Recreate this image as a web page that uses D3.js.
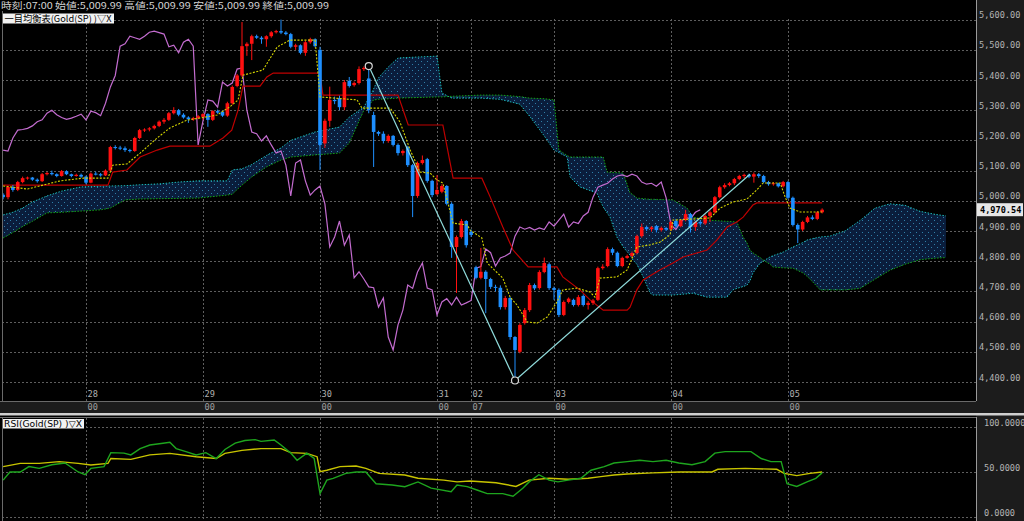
<!DOCTYPE html>
<html><head><meta charset="utf-8">
<script src="https://cdn.jsdelivr.net/npm/d3@7"></script>
<style>html,body{margin:0;padding:0;background:#000;overflow:hidden}svg{display:block}</style>
</head><body><svg id="c" width="1024" height="521"></svg>
<script>
// ---------- DATA ----------
const firstIndex = -17; // index of first candle (28 00:00 = 0)
const candles = [
[5020,5025,5005,5012],[5012,5050,5005,5046],[5046,5052,5030,5036],[5036,5066,5032,5062],[5062,5080,5058,5075],
[5075,5080,5070,5077],[5077,5079,5066,5070],[5070,5074,5060,5065],[5065,5092,5062,5088],[5088,5096,5084,5092],
[5092,5100,5084,5088],[5088,5091,5078,5082],[5082,5102,5080,5098],[5098,5101,5085,5088],[5088,5090,5078,5082],
[5082,5090,5080,5086],[5086,5090,5076,5080],
[5080,5083,5055,5060],[5060,5094,5058,5090],[5090,5096,5084,5088],[5088,5092,5080,5084],[5084,5104,5082,5100],
[5100,5182,5098,5178],[5178,5184,5170,5176],[5176,5182,5168,5174],[5174,5180,5162,5168],[5168,5172,5160,5165],
[5165,5212,5162,5208],[5208,5238,5204,5234],[5234,5240,5228,5236],[5236,5244,5230,5240],[5240,5252,5236,5248],
[5248,5266,5244,5262],[5262,5274,5255,5268],[5268,5294,5264,5290],[5290,5310,5286,5300],[5300,5304,5280,5285],
[5285,5290,5272,5276],[5276,5280,5258,5270],[5270,5278,5265,5274],[5274,5284,5270,5280],[5278,5290,5268,5287],
[5287,5290,5245,5268],[5268,5300,5264,5297],[5297,5302,5288,5292],[5295,5298,5278,5282],[5282,5328,5278,5323],
[5323,5382,5318,5377],[5380,5420,5376,5415],[5415,5592,5410,5512],[5512,5525,5480,5520],[5520,5550,5466,5545],
[5545,5550,5536,5540],[5540,5545,5520,5535],[5535,5548,5510,5545],[5545,5562,5540,5558],[5558,5566,5554,5562],
[5562,5600,5552,5557],[5557,5562,5548,5552],[5552,5556,5505,5510],[5510,5520,5500,5515],[5515,5518,5485,5490],
[5490,5530,5480,5525],[5525,5540,5520,5535],[5535,5538,5508,5512],
[5500,5510,5102,5185],[5190,5272,5175,5265],[5265,5378,5245,5334],[5334,5345,5320,5330],[5340,5348,5300,5310],
[5310,5400,5300,5393],[5397,5410,5375,5380],[5383,5395,5378,5390],[5390,5445,5385,5436],[5436,5445,5430,5440],
[5405,5446,5290,5300],[5284,5295,5112,5228],[5228,5232,5215,5222],[5222,5230,5190,5198],[5198,5220,5192,5215],
[5215,5218,5180,5185],[5185,5190,5150,5158],[5158,5170,5150,5165],[5178,5182,5112,5118],[5118,5122,4946,5016],
[5016,5130,5010,5125],[5125,5150,5120,5135],[5138,5142,5060,5066],[5066,5070,5012,5019],
[5022,5085,5018,5036],[5030,5055,5025,5049],[5049,5052,4985,4990],[4990,4995,4811,4847],[4847,4885,4695,4880],
[4880,4940,4875,4933],[4933,4936,4845,4853],
[4897,4905,4880,4887],[4780,4785,4740,4745],[4745,4844,4740,4765],[4765,4770,4628,4741],[4741,4745,4708,4715],
[4715,4722,4700,4712],[4712,4720,4640,4648],[4648,4685,4640,4678],[4678,4682,4540,4549],[4549,4552,4405,4506],
[4500,4595,4495,4589],[4595,4645,4590,4638],[4638,4728,4632,4721],[4721,4726,4704,4710],[4711,4770,4706,4764],
[4764,4812,4760,4794],[4790,4796,4705,4711],
[4711,4716,4672,4705],[4705,4710,4615,4622],[4622,4670,4618,4665],[4665,4680,4660,4676],[4672,4676,4650,4655],
[4655,4688,4650,4681],[4685,4690,4650,4655],[4655,4668,4640,4662],[4662,4675,4655,4670],[4672,4782,4668,4777],
[4777,4790,4772,4782],[4784,4846,4780,4840],[4840,4845,4820,4828],[4828,4832,4780,4784],[4784,4815,4780,4811],
[4811,4822,4808,4817],[4817,4832,4812,4827],[4827,4888,4822,4883],[4883,4925,4878,4913],[4913,4918,4900,4906],
[4906,4916,4898,4912],[4916,4920,4895,4903],[4903,4915,4898,4910],[4910,4914,4900,4905],
[4905,4935,4900,4930],[4933,4940,4910,4916],[4916,4940,4912,4936],[4936,4970,4932,4956],[4956,4960,4895,4913],
[4913,4934,4900,4930],[4930,4935,4918,4925],[4925,4955,4920,4950],[4950,4968,4930,4962],[4962,5016,4958,5012],
[5012,5050,5008,5045],[5045,5058,5040,5052],[5052,5062,5048,5058],[5058,5076,5052,5072],[5072,5086,5068,5082],
[5082,5090,5075,5086],[5086,5090,5075,5080],[5080,5094,5060,5088],[5088,5092,5076,5082],[5082,5086,5058,5062],
[5062,5066,5050,5055],[5055,5062,5050,5058],[5058,5060,5044,5048],[5048,5066,5044,5062],
[5062,5066,5005,5010],[5010,5014,4915,4920],[4920,4925,4860,4905],[4905,4934,4900,4930],[4930,4950,4926,4945],
[4945,4952,4936,4940],[4940,4966,4936,4962],[4962,4975,4958,4970.54]
];
const chikouShift = 25;

const tenkanIdx = [-17,-12,-8.8,-5.3,-0.6,4.5,5.5,8.4,11.1,12.5,14.6,17.2,20.7,23.4,26.9,29.5,31.2,32.2,36.3,39.2,41.8,47,48,55.6,56.6,62.4,64.4,66.5,67.9,68.5,70.6,72,73.2,75.3,78.2,78.8,81.2,82.3,85.5,87,88.4,90.5,92.5,94.6,96.6,97.8,100.7,103.4,104.4,105.4,108.9,111,113,115.7,117.7,119.8,120.4,128,130.1,132.7,135.6,137.6,138.9,142.4,143.4,144.4,146.5,151];
const tenkanVal = [5049,5039,5052,5066,5075,5075,5118,5122,5158,5178,5208,5241,5267,5274,5284,5311,5334,5416,5433,5509,5532,5532,5344,5334,5307,5307,5261,5168,5118,5095,5092,5069,5059,4926,4920,4903,4877,4794,4744,4681,4655,4599,4595,4615,4665,4705,4711,4698,4681,4744,4748,4771,4847,4854,4863,4887,4936,4943,4976,4996,5006,5036,5059,5059,5013,4976,4963,4963];

const kijunIdx = [-17,4.5,5.5,8.4,11.1,14.6,17.2,25.4,28.1,29.9,31.2,32.2,35.7,37.1,38.4,47.4,48,48.6,64,66.1,73.2,75.3,81.2,82.9,85.5,87.6,90.7,96.6,97.8,101.3,103.4,106.1,111,111.6,113,114.3,117.7,120.4,122.5,127.4,129.4,131.5,133.5,134.8,136.8,137.6,151];
const kijunVal = [5052,5052,5095,5102,5145,5168,5181,5181,5208,5234,5301,5380,5380,5410,5423,5423,5420,5350,5350,5251,5251,5075,5075,5013,4913,4837,4781,4781,4748,4705,4672,4638,4638,4648,4705,4738,4771,4794,4814,4837,4870,4913,4930,4946,4986,4993,4993];

const cloudIdx = [-17,-15,-13,-11,-8,-5,-1,3,5,8,11,15,19,23,29,30,32,34,37,40,42,47,52,54,57,59,60,62,64,72,73,75,81,85,89,91,94,96,97,98.7,99.3,101.3,104.8,106.1,106.9,107.5,108.9,110.2,111.6,112.2,113,114.3,115.7,116.3,120.4,123.3,124.5,127.4,131.5,132.7,133.5,134.8,135.6,136.2,136.8,138.3,138.9,140.3,140.9,143,145,147.1,147.9,149.1,150.6,152.6,155.7,158.8,161.8,164.9,168,171.1,174.2,176.4];
const spanA = [4953,4962,4976,4996,5016,5032,5046,5048,5049,5050,5053,5056,5062,5066,5066,5102,5106,5120,5150,5175,5200,5228,5244,5277,5310,5370,5407,5443,5473,5479,5357,5340,5340,5336,5320,5280,5215,5168,5160,5145,5079,5046,5026,4979,4960,4946,4880,4847,4820,4804,4790,4748,4695,4688,4688,4692,4694,4681,4681,4705,4710,4716,4721,4735,4761,4794,4800,4814,4818,4830,4847,4862,4870,4875,4880,4883,4900,4935,4975,4990,4985,4965,4955,4950];
const spanB = [4877,4895,4915,4932,4960,4962,4966,4970,4976,5003,5006,5007,5008,5009,5019,5022,5052,5079,5112,5135,5145,5152,5158,5191,5300,5334,5336,5338,5340,5344,5344,5346,5350,5350,5345,5340,5338,5334,5168,5150,5145,5145,5145,5145,5095,5094,5093,5092,5026,5020,5009,5007,5005,5005,5003,4976,4946,4936,4932,4931,4930,4880,4860,4837,4828,4812,4804,4790,4781,4778,4777,4761,4750,4731,4705,4705,4705,4710,4740,4770,4790,4805,4810,4812];

const trendIdx = [58, 88, 136.2];
const trendVal = [5446, 4405, 5088];
const pivotIdx = [58, 88];
const pivotVal = [5446, 4405];

const rsiIdx = [-17,-15.6,-13.5,-11.7,-9.6,-7,-4.3,-1.6,-0.2,1,3.7,5.1,7.8,9.2,11.1,13.1,15.8,17.2,18.5,20.5,22.6,24.6,26.7,28.5,30.6,32.6,34.7,35.9,38.6,40,42,43.3,45.3,46.8,48,49.4,50.7,53.3,55.4,57.4,59.5,62.8,65.4,68.1,70.8,74.9,76.1,78.2,80.2,82.3,85.5,87.6,89.6,90.9,92.9,95,96.8,98.9,101.5,103.6,106.3,108.3,111,113.6,116.3,119,121.6,124.3,127,129,131.1,133.7,136.4,138.5,140.5,142.6,143.8,145.8,147.9,149.7,151];
const rsiVal = [41,50,50,56,54,58,60,50,47,54,56,71.5,71,69,76,80,82,83,76,72.6,69,71.5,65,75,82,85,86,84,85.6,80,71,63,71,65,26,41,43,48.5,50,50,37,35.6,33.7,39,32,28,35.6,33.7,30,26,26,23,32,39,47,41,39,41,43,52,56,60,61.5,63,61.5,63,60,58,61.5,71,72.6,72.6,72.6,65,61.5,61.5,37,34,39,43,49];
const sigIdx = [-17,-13.5,-9.6,-5.5,-1.6,1,4.5,5.1,9.2,13.1,17.2,22.6,26.7,28.5,32,35.9,40,42,45.3,47.4,48,49.4,52.1,55.4,57.4,60.1,65.4,68.1,73.4,76.1,78.8,84.1,88.2,90.9,95,98.9,103,105.6,108.3,111,116.3,121.6,128.4,129.6,135.2,141.7,143.2,145.8,148.5,151];
const sigVal = [56,59.6,59.6,61.5,59.6,57.8,59.6,65,64,69,70.7,67,65,70.7,74,76,76,71.5,70.7,67,50.4,52,56,56.7,54,48.5,46.7,43,41,39,40,38,34,41,43,42,43,44.8,46.7,47.8,49,50,50,53,54,53,48.5,46,48.5,50];

const dayIdx = [0,24,48,72,79,96,120,144];
const dayTop = ["28","29","30","31","02","03","04","05"];
const dayBottom = ["00","00","00","00","07","00","00","00"];
const priceTicks = [4400,4500,4600,4700,4800,4900,5000,5100,5200,5300,5400,5500,5600];
const rsiTicks = [0,50,100];
const lastPrice = 4970.54;
const headerText = "時刻:07:00 始値:5,009.99 高値:5,009.99 安値:5,009.99 終値:5,009.99";
const mainLegend = "一目均衡表(Gold(SP) )▽X";
const rsiLegend = "RSI(Gold(SP) )▽X";

// ---------- LAYOUT ----------
const svg = d3.select("#c");
const L = 2, R = 976, T = 11, B = 401;   // main panel
const RT = 418, RB = 519;               // rsi panel
const x = d3.scaleLinear().domain([0, 144]).range([86, 788]);
const y = d3.scaleLinear().domain([4400, 5600]).range([382, 19.6]);
const yr = d3.scaleLinear().domain([0, 100]).range([517, 427]);
const zip = (a, b) => a.map((v, i) => [v, b[i]]);

svg.append("rect").attr("width", 1024).attr("height", 521).attr("fill", "#000");
svg.append("rect").attr("x", R).attr("y", 0).attr("width", 1024 - R).attr("height", 521).attr("fill", "#1c1c1c");
svg.append("rect").attr("x", 0).attr("y", B).attr("width", R).attr("height", 12).attr("fill", "#1c1c1c");
svg.append("rect").attr("x", 0).attr("y", 413).attr("width", 1024).attr("height", 2.5).attr("fill", "#cfcfcf");

const defs = svg.append("defs");
const pat = defs.append("pattern").attr("id", "dots").attr("patternUnits", "userSpaceOnUse").attr("width", 6).attr("height", 6);
pat.append("rect").attr("width", 6).attr("height", 6).attr("fill", "#0a1d3c");
pat.append("rect").attr("x", 1).attr("y", 1).attr("width", 1).attr("height", 1).attr("fill", "#2f7fa8");
pat.append("rect").attr("x", 4).attr("y", 4).attr("width", 1).attr("height", 1).attr("fill", "#2f7fa8");
defs.append("clipPath").attr("id", "clipMain").append("rect").attr("x", L).attr("y", T).attr("width", R - L).attr("height", B - T);
defs.append("clipPath").attr("id", "clipRsi").append("rect").attr("x", L).attr("y", RT).attr("width", R - L).attr("height", RB - RT);

// ---------- MAIN PANEL ----------
const g = svg.append("g").attr("clip-path", "url(#clipMain)");
const gridStyle = s => s.attr("stroke", "#5e5e5e").attr("stroke-width", 1).attr("stroke-dasharray", "2,2");
g.selectAll(".hg").data(priceTicks).join("line")
  .attr("x1", L).attr("x2", R).attr("y1", d => Math.round(y(d)) + 0.5).attr("y2", d => Math.round(y(d)) + 0.5).call(gridStyle);
g.selectAll(".vg").data(dayIdx).join("line")
  .attr("x1", d => Math.round(x(d)) + 0.5).attr("x2", d => Math.round(x(d)) + 0.5).attr("y1", 19).attr("y2", B).call(gridStyle);

// cloud
const cloud = zip(cloudIdx, cloudIdx.map((_, i) => [spanA[i], spanB[i]]));
g.append("path").datum(cloud)
  .attr("d", d3.area().x(d => x(d[0])).y0(d => y(d[1][0])).y1(d => y(d[1][1])))
  .attr("fill", "url(#dots)");
g.append("path").datum(zip(cloudIdx, spanA)).attr("d", d3.line().x(d => x(d[0])).y(d => y(d[1])))
  .attr("fill", "none").attr("stroke", "#1cbcbc").attr("stroke-width", 1).attr("stroke-dasharray", "1.5,1.5");
g.append("path").datum(zip(cloudIdx, spanB)).attr("d", d3.line().x(d => x(d[0])).y(d => y(d[1])))
  .attr("fill", "none").attr("stroke", "#13a513").attr("stroke-width", 1).attr("stroke-dasharray", "1.5,1.5");

// chikou span (closes shifted back)
const chikou = candles.map((c, i) => [firstIndex + i - chikouShift, c[3]]);
g.append("path").datum(chikou).attr("d", d3.line().x(d => x(d[0])).y(d => y(d[1])))
  .attr("fill", "none").attr("stroke", "#c36ccf").attr("stroke-width", 1.2);

// kijun
g.append("path").datum(zip(kijunIdx, kijunVal)).attr("d", d3.line().x(d => x(d[0])).y(d => y(d[1])))
  .attr("fill", "none").attr("stroke", "#c00000").attr("stroke-width", 1.2);

// candles
const cg = g.append("g");
candles.forEach((c, i) => {
  const k = firstIndex + i, cx = x(k);
  const up = c[3] >= c[0];
  const col = up ? "#ff1010" : "#1e8fff";
  cg.append("line").attr("x1", cx).attr("x2", cx).attr("y1", y(c[1])).attr("y2", y(c[2])).attr("stroke", col).attr("stroke-width", 1);
  const top = y(Math.max(c[0], c[3])), bot = y(Math.min(c[0], c[3]));
  cg.append("rect").attr("x", cx - 1.8).attr("y", top).attr("width", 3.6).attr("height", Math.max(1, bot - top)).attr("fill", col);
});

// tenkan
g.append("path").datum(zip(tenkanIdx, tenkanVal)).attr("d", d3.line().x(d => x(d[0])).y(d => y(d[1])))
  .attr("fill", "none").attr("stroke", "#d2d200").attr("stroke-width", 1.1).attr("stroke-dasharray", "2,1.5");

// trend lines
g.append("path").datum(zip(trendIdx, trendVal)).attr("d", d3.line().x(d => x(d[0])).y(d => y(d[1])))
  .attr("fill", "none").attr("stroke", "#8fdada").attr("stroke-width", 1.2);
g.selectAll(".pv").data(zip(pivotIdx, pivotVal)).join("circle")
  .attr("cx", d => x(d[0])).attr("cy", d => y(d[1])).attr("r", 3.5)
  .attr("fill", "#000").attr("stroke", "#d8d8d8").attr("stroke-width", 1.2);

// borders
svg.append("line").attr("x1", R + 0.5).attr("x2", R + 0.5).attr("y1", 0).attr("y2", B).attr("stroke", "#9a9a9a");
svg.append("line").attr("x1", L + 0.5).attr("x2", L + 0.5).attr("y1", T).attr("y2", B).attr("stroke", "#6a6a6a");
svg.append("line").attr("x1", 0).attr("x2", R).attr("y1", B + 0.5).attr("y2", B + 0.5).attr("stroke", "#6a6a6a");

// price axis labels
const fmtP = d3.format(",.2f");
svg.selectAll(".pl").data(priceTicks).join("text")
  .attr("x", 979).attr("y", d => y(d) - 1.5).text(d => fmtP(d))
  .attr("fill", "#b4b4b4").attr("font-family", "DejaVu Sans Mono, monospace").attr("font-size", 8.6);
svg.append("rect").attr("x", 977).attr("y", y(lastPrice) - 6.5).attr("width", 46).attr("height", 13).attr("fill", "#e6e6e6");
svg.append("text").attr("x", 980).attr("y", y(lastPrice) + 3.5).text(fmtP(lastPrice))
  .attr("fill", "#000").attr("font-weight", "bold").attr("font-family", "DejaVu Sans Mono, monospace").attr("font-size", 8.6);

// x labels
svg.selectAll(".xt").data(dayIdx).join("text")
  .attr("x", d => Math.round(x(d)) + 1.5).attr("y", 397).text((d, i) => dayTop[i])
  .attr("fill", "#b0b0b0").attr("font-family", "DejaVu Sans Mono, monospace").attr("font-size", 8.6);
svg.selectAll(".xb").data(dayIdx).join("text")
  .attr("x", d => Math.round(x(d)) + 1.5).attr("y", 410).text((d, i) => dayBottom[i])
  .attr("fill", "#a0a0a0").attr("font-family", "DejaVu Sans Mono, monospace").attr("font-size", 8.6);

// header & legend
svg.append("text").attr("x", 1).attr("y", 9).text(headerText)
  .attr("fill", "#d4d4d4").attr("font-family", "Noto Sans CJK JP, sans-serif").attr("font-size", 9)
  .attr("textLength", 328).attr("lengthAdjust", "spacingAndGlyphs");
svg.append("rect").attr("x", 3).attr("y", 13.5).attr("width", 111).attr("height", 10).attr("fill", "#f2f2f2");
svg.append("text").attr("x", 4.5).attr("y", 21.8).text(mainLegend)
  .attr("fill", "#000").attr("font-family", "Noto Sans CJK JP, sans-serif").attr("font-size", 9)
  .attr("textLength", 107).attr("lengthAdjust", "spacingAndGlyphs");

// ---------- RSI PANEL ----------
const rg = svg.append("g").attr("clip-path", "url(#clipRsi)");
rg.selectAll(".rh").data(rsiTicks).join("line")
  .attr("x1", L).attr("x2", R).attr("y1", d => Math.round(yr(d)) + 0.5).attr("y2", d => Math.round(yr(d)) + 0.5).call(gridStyle);
rg.selectAll(".rv").data(dayIdx).join("line")
  .attr("x1", d => Math.round(x(d)) + 0.5).attr("x2", d => Math.round(x(d)) + 0.5).attr("y1", RT).attr("y2", RB).call(gridStyle);
rg.append("path").datum(zip(sigIdx, sigVal)).attr("d", d3.line().x(d => x(d[0])).y(d => yr(d[1])))
  .attr("fill", "none").attr("stroke", "#c8c400").attr("stroke-width", 1.4);
rg.append("path").datum(zip(rsiIdx, rsiVal)).attr("d", d3.line().x(d => x(d[0])).y(d => yr(d[1])))
  .attr("fill", "none").attr("stroke", "#1ea51e").attr("stroke-width", 1.4);
svg.append("line").attr("x1", R + 0.5).attr("x2", R + 0.5).attr("y1", RT - 1).attr("y2", 521).attr("stroke", "#9a9a9a");
svg.append("line").attr("x1", L + 0.5).attr("x2", L + 0.5).attr("y1", RT - 1).attr("y2", 521).attr("stroke", "#6a6a6a");
svg.append("line").attr("x1", 0).attr("x2", R).attr("y1", RT - 0.5).attr("y2", RT - 0.5).attr("stroke", "#6a6a6a");
const fmtR = d3.format(".4f");
svg.selectAll(".rl").data(rsiTicks).join("text")
  .attr("x", 984).attr("y", d => yr(d) - 1).text(d => fmtR(d))
  .attr("fill", "#b4b4b4").attr("font-family", "DejaVu Sans Mono, monospace").attr("font-size", 8.6);
svg.append("rect").attr("x", 3).attr("y", 419).attr("width", 81).attr("height", 9.5).attr("fill", "#f2f2f2");
svg.append("text").attr("x", 4).attr("y", 427).text(rsiLegend)
  .attr("fill", "#000").attr("font-family", "DejaVu Sans, sans-serif").attr("font-size", 8.5)
  .attr("textLength", 78).attr("lengthAdjust", "spacingAndGlyphs");
</script></body></html>
